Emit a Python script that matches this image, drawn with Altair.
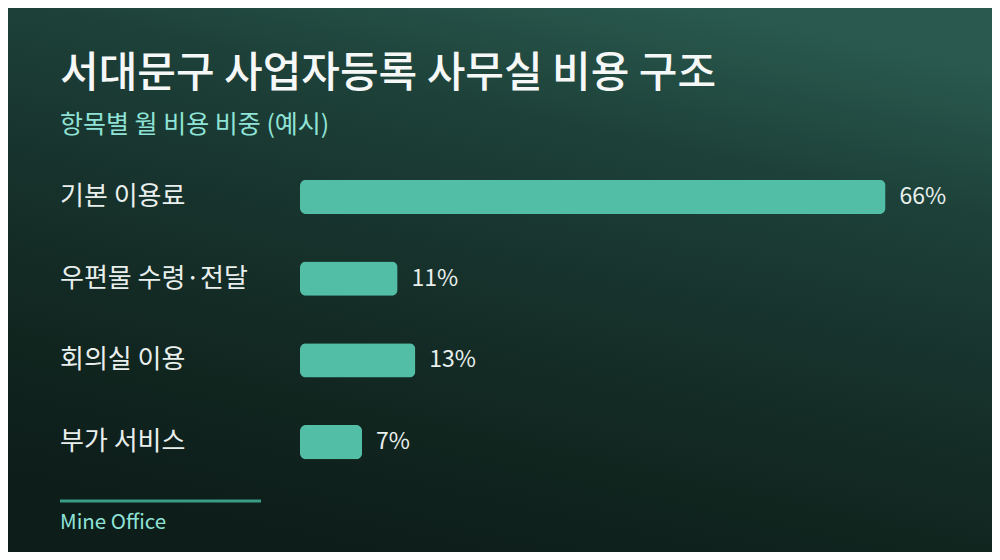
import altair as alt
import pandas as pd

# ---- data ----
categories = ["기본 이용료", "우편물 수령·전달", "회의실 이용", "부가 서비스"]
values = [66, 11, 13, 7]
value_labels = ["66%", "11%", "13%", "7%"]

title_text = "서대문구 사업자등록 사무실 비용 구조"
subtitle_text = "항목별 월 비용 비중 (예시)"
footer_text = "Mine Office"

df = pd.DataFrame({"category": categories, "value": values, "label": value_labels})

FONT = "Noto Sans CJK KR"
BAR = "#52bea6"
TEXT = "#e9efed"
ACCENT = "#8fe3d6"

y_enc = alt.Y(
    "category:N",
    sort=categories,
    axis=None,
    scale=alt.Scale(paddingInner=0.584, paddingOuter=0.292),
)
x_scale = alt.Scale(domain=[0, 78], nice=False, zero=True)

base = alt.Chart(df)
one = pd.DataFrame({"k": [0]})

bg = alt.Chart(one).mark_rect(
    clip=False,
    color=alt.LinearGradient(
        gradient="linear",
        x1=0.75, y1=0, x2=0.35, y2=1,
        stops=[
            alt.GradientStop(color="#2a5a4f", offset=0),
            alt.GradientStop(color="#1d4139", offset=0.25),
            alt.GradientStop(color="#17322c", offset=0.5),
            alt.GradientStop(color="#11251f", offset=0.78),
            alt.GradientStop(color="#0d1d1a", offset=1),
        ],
    ),
).encode(
    x=alt.value(-292), x2=alt.value(692), y=alt.value(-148), y2=alt.value(396)
)

title = alt.Chart(pd.DataFrame({"t": [title_text]})).mark_text(
    align="left", baseline="middle", font=FONT, fontSize=42, fontWeight=500,
    color="#f5f8f7", clip=False
).encode(x=alt.value(-240), y=alt.value(-82), text="t:N")

subtitle = alt.Chart(pd.DataFrame({"t": [subtitle_text]})).mark_text(
    align="left", baseline="middle", font=FONT, fontSize=25,
    color=ACCENT, clip=False
).encode(x=alt.value(-240), y=alt.value(-31), text="t:N")

bars = base.mark_bar(color=BAR, cornerRadius=6).encode(
    x=alt.X("value:Q", scale=x_scale, axis=None),
    y=y_enc,
)

vals = base.mark_text(
    align="left", baseline="middle", dx=14, font=FONT, fontSize=23, color=TEXT
).encode(
    x=alt.X("value:Q", scale=x_scale),
    y=y_enc,
    text="label:N",
)

cats = base.mark_text(
    align="left", baseline="middle", font=FONT, fontSize=26, color=TEXT, clip=False
).encode(
    x=alt.value(-240),
    y=y_enc,
    text="category:N",
)

foot_rule = alt.Chart(one).mark_rule(
    color="#3a9c86", strokeWidth=3, clip=False
).encode(x=alt.value(-240), x2=alt.value(-39), y=alt.value(345))

foot_text = alt.Chart(pd.DataFrame({"t": [footer_text]})).mark_text(
    align="left", baseline="middle", font=FONT, fontSize=20.5, color=ACCENT, clip=False
).encode(x=alt.value(-240), y=alt.value(367), text="t:N")

chart = alt.layer(bg, title, subtitle, bars, vals, cats, foot_rule, foot_text).properties(
    width=692,
    height=327,
    background="#15302a",
    padding={"left": 292, "top": 148, "right": 0, "bottom": 69},
    autosize=alt.AutoSizeParams(type="none"),
).configure_view(stroke=None)

chart.save("out.html", embed_options={"renderer": "svg", "actions": False})
